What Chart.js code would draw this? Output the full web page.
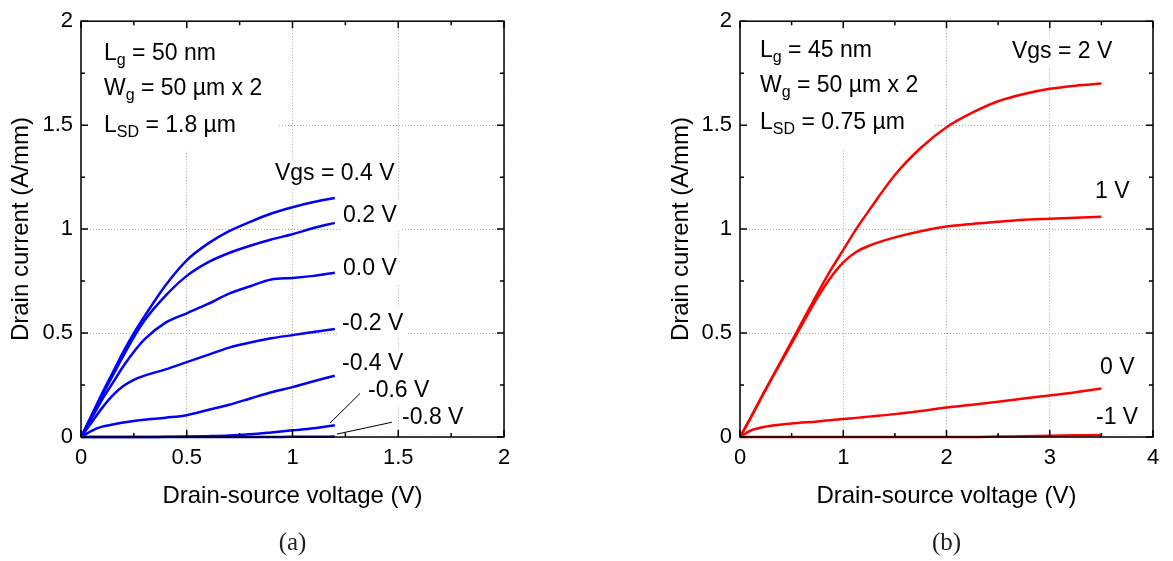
<!DOCTYPE html>
<html>
<head>
<meta charset="utf-8">
<script src="https://cdn.jsdelivr.net/npm/chart.js@4"></script>
<style>
  body { margin: 0; background: #fff; width: 1173px; height: 561px; overflow: hidden; position: relative; }
  .panel { position: absolute; top: 0; height: 561px; }
  #pa { left: 0; width: 586px; }
  #pb { left: 586px; width: 587px; }
</style>
</head>
<body>
<div class="panel" id="pa"><canvas id="chart-a"></canvas></div>
<div class="panel" id="pb"><canvas id="chart-b"></canvas></div>
<script>
// ── Data: panel (a), Lg = 50 nm ───────────────────────
const vdsA = [0, 0.05, 0.1, 0.15, 0.2, 0.25, 0.3, 0.4, 0.5, 0.6, 0.7, 0.8, 0.9, 1.0, 1.1, 1.2];
const idA_p04 = [0, 0.105, 0.21, 0.31, 0.41, 0.50, 0.58, 0.73, 0.85, 0.93, 0.99, 1.035, 1.075, 1.105, 1.13, 1.15];
const idA_p02 = [0, 0.10, 0.20, 0.295, 0.39, 0.48, 0.56, 0.68, 0.775, 0.84, 0.885, 0.92, 0.95, 0.975, 1.005, 1.03];
const idA_00  = [0, 0.09, 0.18, 0.26, 0.34, 0.41, 0.47, 0.55, 0.595, 0.64, 0.69, 0.725, 0.758, 0.765, 0.775, 0.79];
const idA_m02 = [0, 0.07, 0.14, 0.20, 0.245, 0.275, 0.295, 0.325, 0.36, 0.395, 0.43, 0.455, 0.475, 0.49, 0.505, 0.52];
const idA_m04 = [0, 0.03, 0.05, 0.06, 0.07, 0.077, 0.083, 0.093, 0.105, 0.13, 0.155, 0.185, 0.215, 0.24, 0.268, 0.295];
const idA_m06 = [0, 0, 0, 0, 0, 0, 0, 0.001, 0.002, 0.004, 0.007, 0.013, 0.022, 0.032, 0.042, 0.057];
const idA_m08 = [0, 0, 0, 0, 0, 0, 0, 0, 0, 0, 0, 0, 0, 0.001, 0.001, 0.002];
const ticksA_x = { min: 0, max: 2, step: 0.5 };

// ── Data: panel (b), Lg = 45 nm ───────────────────────
const vdsB = [0, 0.1, 0.25, 0.5, 0.75, 0.875, 1.0, 1.125, 1.25, 1.5, 1.75, 2.0, 2.25, 2.5, 2.75, 3.0, 3.25, 3.5];
const idB_p2 = [0, 0.09, 0.23, 0.46, 0.69, 0.80, 0.90, 1.00, 1.09, 1.26, 1.39, 1.49, 1.56, 1.615, 1.65, 1.675, 1.69, 1.70];
const idB_p1 = [0, 0.09, 0.23, 0.45, 0.67, 0.765, 0.84, 0.89, 0.92, 0.96, 0.99, 1.012, 1.025, 1.035, 1.045, 1.05, 1.055, 1.06];
const idB_0  = [0, 0.03, 0.05, 0.065, 0.075, 0.081, 0.087, 0.092, 0.098, 0.11, 0.125, 0.142, 0.155, 0.17, 0.185, 0.2, 0.215, 0.233];
const idB_m1 = [0, 0, 0, 0, 0, 0, 0, 0, 0, 0, 0, 0, 0, 0.002, 0.004, 0.006, 0.008, 0.01];
const ticksB_x = { min: 0, max: 4, step: 1 };

const ticksY = { min: 0, max: 2, step: 0.5 };

const FONT = '"Liberation Sans", Arial, sans-serif';
const pts = (xs, ys) => xs.map((x, i) => ({ x, y: ys[i] }));

// ── Text helpers ──────────────────────────────────────
function rich(ctx, parts, x, y, size) {
  let cx = x;
  for (const [t, sub] of parts) {
    ctx.font = (sub ? Math.round(size * 0.68) : size) + 'px ' + FONT;
    ctx.fillText(t, cx, sub ? y + size * 0.32 : y);
    cx += ctx.measureText(t).width;
  }
  return cx - x;
}

function measureRich(ctx, parts, size) {
  let w = 0;
  for (const [t, sub] of parts) {
    ctx.font = (sub ? Math.round(size * 0.68) : size) + 'px ' + FONT;
    w += ctx.measureText(t).width;
  }
  return w;
}

// ── Decorations: boxes, labels, frame, inward ticks ───
const deco = {
  id: 'deco',
  beforeDatasetsDraw(chart, args, o) {
    const { ctx, chartArea: a, scales: { x, y } } = chart;
    ctx.save();
    ctx.textBaseline = 'middle';
    ctx.textAlign = 'left';
    // parameter block, sits on a white box that hides the grid
    const w = Math.max(...o.info.map(l => measureRich(ctx, l, 23)));
    ctx.fillStyle = '#fff';
    ctx.fillRect(a.left + 1, a.top + 1, o.infoX + w + 15, o.infoY[2] + 25);
    ctx.fillStyle = '#000';
    o.info.forEach((l, i) => rich(ctx, l, a.left + o.infoX, a.top + o.infoY[i], 23));
    // curve labels
    ctx.font = '23px ' + FONT;
    for (const lb of o.labels) {
      const px = x.getPixelForValue(lb.x), py = y.getPixelForValue(lb.y);
      const tw = ctx.measureText(lb.text).width;
      ctx.fillStyle = '#fff';
      ctx.fillRect(px - 3, py - 15, tw + 6, 30);
      ctx.fillStyle = '#000';
      ctx.fillText(lb.text, px, py);
    }
    ctx.restore();
  },
  afterDraw(chart, args, o) {
    const { ctx, chartArea: a, scales: { x, y } } = chart;
    ctx.save();
    // leader lines
    ctx.strokeStyle = '#000';
    ctx.lineWidth = 1;
    for (const ln of o.leaders) {
      ctx.beginPath();
      ctx.moveTo(x.getPixelForValue(ln[0]), y.getPixelForValue(ln[1]));
      ctx.lineTo(x.getPixelForValue(ln[2]), y.getPixelForValue(ln[3]));
      ctx.stroke();
    }
    // inward ticks on all four sides
    ctx.lineWidth = 1.5;
    const tickSet = (sc, step) => {
      const out = [];
      for (let v = sc.min; v <= sc.max + 1e-9; v += step / 2) out.push([v, Math.round((v - sc.min) / (step / 2)) % 2 === 0]);
      return out;
    };
    ctx.beginPath();
    for (const [v, major] of tickSet(x, o.xStep)) {
      const p = x.getPixelForValue(v), L = major ? 7 : 4;
      ctx.moveTo(p, a.bottom); ctx.lineTo(p, a.bottom - L);
      ctx.moveTo(p, a.top); ctx.lineTo(p, a.top + L);
    }
    for (const [v, major] of tickSet(y, ticksY.step)) {
      const p = y.getPixelForValue(v), L = major ? 7 : 4;
      ctx.moveTo(a.left, p); ctx.lineTo(a.left + L, p);
      ctx.moveTo(a.right, p); ctx.lineTo(a.right - L, p);
    }
    ctx.stroke();
    ctx.strokeRect(a.left, a.top, a.right - a.left, a.bottom - a.top);
    // panel tag
    ctx.fillStyle = '#222';
    ctx.font = '25px "Liberation Serif", "DejaVu Serif", serif';
    ctx.textAlign = 'center';
    ctx.textBaseline = 'middle';
    ctx.fillText(o.tag, (a.left + a.right) / 2, 543);
    ctx.restore();
  }
};

function axisOpts(lim, extra) {
  return {
    type: 'linear', min: lim.min, max: lim.max,
    grid: { color: '#a8a8a8', lineWidth: 1, drawTicks: false },
    border: { display: false, dash: [1, 2] },
    ticks: {
      stepSize: lim.step, color: '#000', font: { family: FONT, size: 22 }, padding: 8,
      callback: v => String(v)
    },
    ...extra
  };
}

function makePanel(id, series, color, xLim, yAxisWidth, padRight, yTitlePad, deco_o) {
  return new Chart(document.getElementById(id), {
    type: 'line',
    data: {
      datasets: series.map(s => ({
        data: s, borderColor: color, borderWidth: 2.5, pointRadius: 0,
        cubicInterpolationMode: 'monotone', fill: false, clip: false
      }))
    },
    options: {
      responsive: true,
      maintainAspectRatio: false,
      animation: false,
      layout: { padding: { top: 16, right: padRight, left: 0, bottom: 0 } },
      plugins: { legend: { display: false }, tooltip: { enabled: false }, deco: deco_o },
      scales: {
        x: axisOpts(xLim, {
          title: { display: true, text: 'Drain-source voltage (V)', color: '#000', font: { family: FONT, size: 24 }, padding: { top: 0, bottom: 50 } },
          afterFit: s => { s.height = 124; }
        }),
        y: axisOpts(ticksY, {
          title: { display: true, text: 'Drain current (A/mm)', color: '#000', font: { family: FONT, size: 24 }, padding: { top: yTitlePad, bottom: 0 } },
          afterFit: s => { s.width = yAxisWidth; }
        })
      }
    },
    plugins: [deco]
  });
}

// ── Panel (a) ─────────────────────────────────────────
makePanel('chart-a',
  [idA_p04, idA_p02, idA_00, idA_m02, idA_m04, idA_m06, idA_m08].map(ys => pts(vdsA, ys)),
  '#0000ff', ticksA_x, 81, 82, 7,
  {
    tag: '(a)', xStep: ticksA_x.step,
    infoX: 23, infoY: [32, 67, 104],
    info: [
      [['L', 0], ['g', 1], [' = 50 nm', 0]],
      [['W', 0], ['g', 1], [' = 50 µm x 2', 0]],
      [['L', 0], ['SD', 1], [' = 1.8 µm', 0]]
    ],
    labels: [
      { text: 'Vgs = 0.4 V', x: 0.917, y: 1.268 },
      { text: '0.2 V', x: 1.239, y: 1.064 },
      { text: '0.0 V', x: 1.239, y: 0.808 },
      { text: '-0.2 V', x: 1.234, y: 0.546 },
      { text: '-0.4 V', x: 1.234, y: 0.351 },
      { text: '-0.6 V', x: 1.357, y: 0.223 },
      { text: '-0.8 V', x: 1.518, y: 0.095 }
    ],
    leaders: [[1.177, 0.067, 1.319, 0.209], [1.21, 0.014, 1.47, 0.071]]
  });

// ── Panel (b) ─────────────────────────────────────────
makePanel('chart-b',
  [idB_p2, idB_p1, idB_0, idB_m1].map(ys => pts(vdsB, ys)),
  '#ff0000', ticksB_x, 154, 20, 81,
  {
    tag: '(b)', xStep: ticksB_x.step,
    infoX: 20, infoY: [29, 64, 101],
    info: [
      [['L', 0], ['g', 1], [' = 45 nm', 0]],
      [['W', 0], ['g', 1], [' = 50 µm x 2', 0]],
      [['L', 0], ['SD', 1], [' = 0.75 µm', 0]]
    ],
    labels: [
      { text: 'Vgs = 2 V', x: 2.634, y: 1.853 },
      { text: '1 V', x: 3.438, y: 1.178 },
      { text: '0 V', x: 3.487, y: 0.333 },
      { text: '-1 V', x: 3.448, y: 0.095 }
    ],
    leaders: []
  });
</script>
</body>
</html>
